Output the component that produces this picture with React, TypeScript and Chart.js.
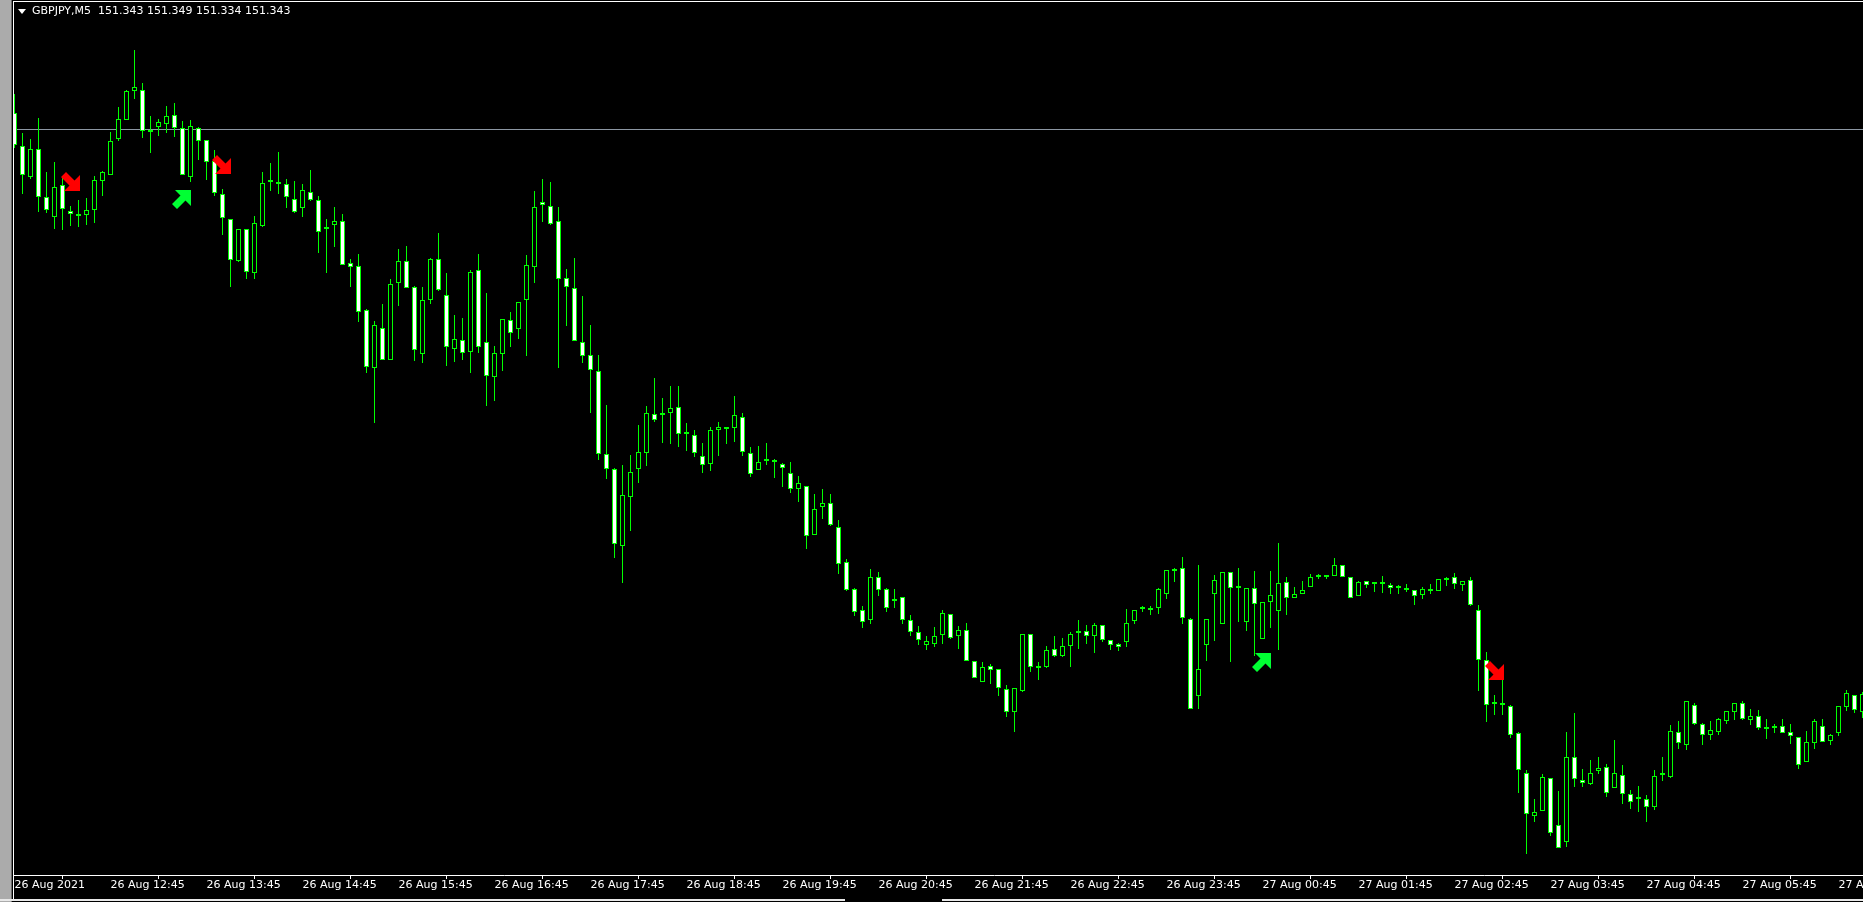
import React, { useEffect, useRef } from 'react';
import { Chart, registerables } from 'chart.js';

Chart.register(...registerables);

// GBPJPY M5 candles, one per 5 minutes, first bar 26 Aug 2021 11:45
const opens = [
  151.887, 151.854, 151.823, 151.851, 151.803, 151.783, 151.815, 151.789, 151.784, 151.785,
  151.790, 151.819, 151.825, 151.861, 151.880, 151.909, 151.910, 151.868, 151.873, 151.876,
  151.885, 151.872, 151.823, 151.872, 151.860, 151.839, 151.806, 151.781, 151.739, 151.771,
  151.727, 151.774, 151.818, 151.817, 151.816, 151.801, 151.792, 151.808, 151.800, 151.773,
  151.775, 151.779, 151.737, 151.734, 151.690, 151.632, 151.672, 151.640, 151.717, 151.739,
  151.713, 151.646, 151.700, 151.741, 151.705, 151.651, 151.660, 151.648, 151.730, 151.658,
  151.623, 151.646, 151.680, 151.671, 151.700, 151.733, 151.798, 151.794, 151.779, 151.722,
  151.712, 151.658, 151.645, 151.629, 151.546, 151.531, 151.454, 151.503, 151.531, 151.547,
  151.586, 151.585, 151.587, 151.593, 151.566, 151.565, 151.544, 151.536, 151.570, 151.571,
  151.572, 151.583, 151.547, 151.530, 151.539, 151.540, 151.536, 151.527, 151.511, 151.514,
  151.465, 151.493, 151.497, 151.473, 151.438, 151.411, 151.390, 151.380, 151.423, 151.411,
  151.400, 151.403, 151.380, 151.368, 151.355, 151.356, 151.365, 151.386, 151.364, 151.370,
  151.339, 151.318, 151.334, 151.331, 151.311, 151.288, 151.309, 151.366, 151.332, 151.333,
  151.351, 151.344, 151.354, 151.367, 151.369, 151.364, 151.375, 151.360, 151.356, 151.358,
  151.379, 151.391, 151.390, 151.392, 151.406, 151.429, 151.432, 151.381, 151.304, 151.355,
  151.406, 151.376, 151.428, 151.412, 151.378, 151.412, 151.361, 151.398, 151.389, 151.418,
  151.402, 151.406, 151.413, 151.423, 151.423, 151.424, 151.435, 151.423, 151.404, 151.419,
  151.416, 151.418, 151.415, 151.412, 151.412, 151.410, 151.405, 151.409, 151.409, 151.420,
  151.423, 151.415, 151.420, 151.390, 151.340, 151.296, 151.297, 151.294, 151.267, 151.227,
  151.184, 151.189, 151.222, 151.175, 151.158, 151.243, 151.220, 151.216, 151.229, 151.233,
  151.212, 151.225, 151.206, 151.201, 151.201, 151.193, 151.227, 151.223, 151.268, 151.255,
  151.295, 151.276, 151.265, 151.268, 151.279, 151.288, 151.297, 151.280, 151.284, 151.271,
  151.272, 151.274, 151.268, 151.263, 151.238, 151.257, 151.274, 151.259, 151.267, 151.293,
  151.305, 151.288,
];

const highs = [
  151.906, 151.867, 151.861, 151.882, 151.828, 151.838, 151.822, 151.794, 151.800, 151.802,
  151.824, 151.829, 151.868, 151.893, 151.910, 151.950, 151.917, 151.884, 151.881, 151.894,
  151.897, 151.879, 151.880, 151.873, 151.860, 151.850, 151.811, 151.781, 151.771, 151.771,
  151.784, 151.828, 151.837, 151.848, 151.821, 151.819, 151.816, 151.830, 151.804, 151.781,
  151.793, 151.786, 151.741, 151.746, 151.691, 151.679, 151.696, 151.721, 151.751, 151.754,
  151.714, 151.713, 151.742, 151.767, 151.727, 151.685, 151.682, 151.730, 151.746, 151.707,
  151.654, 151.681, 151.688, 151.698, 151.745, 151.809, 151.821, 151.818, 151.793, 151.731,
  151.742, 151.704, 151.675, 151.645, 151.595, 151.532, 151.535, 151.545, 151.575, 151.594,
  151.622, 151.602, 151.614, 151.614, 151.577, 151.570, 151.557, 151.573, 151.578, 151.573,
  151.604, 151.587, 151.553, 151.554, 151.557, 151.541, 151.537, 151.538, 151.524, 151.514,
  151.506, 151.511, 151.506, 151.480, 151.441, 151.412, 151.394, 151.431, 151.428, 151.412,
  151.411, 151.403, 151.385, 151.374, 151.364, 151.373, 151.390, 151.386, 151.374, 151.377,
  151.339, 151.338, 151.336, 151.331, 151.315, 151.312, 151.366, 151.366, 151.338, 151.354,
  151.364, 151.362, 151.368, 151.380, 151.375, 151.377, 151.375, 151.360, 151.357, 151.391,
  151.390, 151.394, 151.394, 151.412, 151.430, 151.432, 151.443, 151.382, 151.435, 151.381,
  151.425, 151.428, 151.428, 151.432, 151.412, 151.429, 151.398, 151.429, 151.457, 151.423,
  151.413, 151.419, 151.426, 151.426, 151.423, 151.442, 151.435, 151.423, 151.419, 151.419,
  151.418, 151.424, 151.417, 151.415, 151.416, 151.410, 151.413, 151.416, 151.421, 151.423,
  151.427, 151.419, 151.423, 151.395, 151.348, 151.305, 151.326, 151.295, 151.268, 151.230,
  151.201, 151.226, 151.222, 151.209, 151.268, 151.287, 151.231, 151.240, 151.243, 151.236,
  151.260, 151.235, 151.210, 151.214, 151.205, 151.230, 151.243, 151.275, 151.279, 151.299,
  151.297, 151.277, 151.279, 151.282, 151.289, 151.297, 151.299, 151.291, 151.290, 151.281,
  151.276, 151.281, 151.276, 151.263, 151.269, 151.281, 151.281, 151.266, 151.294, 151.310,
  151.305, 151.308,
];

const lows = [
  151.852, 151.806, 151.821, 151.788, 151.787, 151.771, 151.770, 151.774, 151.773, 151.775,
  151.777, 151.804, 151.825, 151.859, 151.880, 151.901, 151.862, 151.847, 151.864, 151.867,
  151.863, 151.825, 151.818, 151.840, 151.820, 151.804, 151.765, 151.713, 151.738, 151.721,
  151.721, 151.773, 151.809, 151.806, 151.792, 151.787, 151.783, 151.799, 151.747, 151.727,
  151.753, 151.735, 151.713, 151.678, 151.627, 151.577, 151.640, 151.640, 151.694, 151.712,
  151.639, 151.637, 151.696, 151.709, 151.634, 151.638, 151.640, 151.627, 151.647, 151.594,
  151.599, 151.629, 151.653, 151.661, 151.644, 151.717, 151.778, 151.775, 151.632, 151.674,
  151.659, 151.637, 151.587, 151.540, 151.521, 151.442, 151.417, 151.469, 151.517, 151.534,
  151.578, 151.557, 151.556, 151.553, 151.549, 151.543, 151.527, 151.529, 151.544, 151.556,
  151.558, 151.544, 151.523, 151.530, 151.535, 151.522, 151.513, 151.507, 151.498, 151.451,
  151.465, 151.481, 151.474, 151.426, 151.409, 151.384, 151.372, 151.376, 151.404, 151.388,
  151.392, 151.376, 151.364, 151.355, 151.350, 151.353, 151.356, 151.361, 151.351, 151.339,
  151.322, 151.318, 151.316, 151.304, 151.283, 151.268, 151.308, 151.328, 151.320, 151.332,
  151.343, 151.343, 151.333, 151.351, 151.356, 151.347, 151.358, 151.350, 151.349, 151.353,
  151.376, 151.388, 151.385, 151.386, 151.401, 151.418, 151.376, 151.291, 151.291, 151.339,
  151.359, 151.376, 151.338, 151.378, 151.369, 151.344, 151.361, 151.372, 151.350, 151.385,
  151.402, 151.406, 151.413, 151.421, 151.421, 151.424, 151.423, 151.402, 151.404, 151.412,
  151.408, 151.407, 151.406, 151.406, 151.408, 151.395, 151.401, 151.406, 151.409, 151.414,
  151.411, 151.409, 151.394, 151.309, 151.278, 151.285, 151.285, 151.262, 151.207, 151.146,
  151.178, 151.189, 151.164, 151.152, 151.153, 151.213, 151.213, 151.215, 151.226, 151.203,
  151.212, 151.196, 151.191, 151.188, 151.178, 151.190, 151.219, 151.222, 151.251, 151.250,
  151.275, 151.255, 151.260, 151.265, 151.276, 151.280, 151.280, 151.275, 151.270, 151.261,
  151.267, 151.267, 151.256, 151.231, 151.238, 151.251, 151.258, 151.255, 151.264, 151.289,
  151.287, 151.282,
];

const closes = [
  151.855, 151.825, 151.851, 151.803, 151.790, 151.813, 151.791, 151.786, 151.785, 151.790,
  151.820, 151.828, 151.859, 151.881, 151.909, 151.913, 151.869, 151.870, 151.878, 151.884,
  151.872, 151.825, 151.874, 151.859, 151.838, 151.807, 151.782, 151.740, 151.771, 151.728,
  151.777, 151.817, 151.818, 151.816, 151.803, 151.788, 151.810, 151.800, 151.768, 151.771,
  151.779, 151.735, 151.733, 151.688, 151.633, 151.675, 151.640, 151.716, 151.739, 151.712,
  151.650, 151.700, 151.741, 151.710, 151.653, 151.661, 151.647, 151.728, 151.653, 151.624,
  151.647, 151.681, 151.667, 151.698, 151.735, 151.793, 151.795, 151.776, 151.721, 151.713,
  151.659, 151.644, 151.630, 151.546, 151.531, 151.456, 151.505, 151.528, 151.548, 151.587,
  151.580, 151.587, 151.592, 151.566, 151.566, 151.547, 151.535, 151.570, 151.573, 151.571,
  151.585, 151.548, 151.526, 151.538, 151.541, 151.538, 151.532, 151.511, 151.517, 151.464,
  151.491, 151.497, 151.475, 151.436, 151.410, 151.388, 151.378, 151.423, 151.410, 151.392,
  151.399, 151.380, 151.368, 151.360, 151.359, 151.364, 151.387, 151.362, 151.370, 151.339,
  151.322, 151.333, 151.330, 151.312, 151.288, 151.312, 151.366, 151.333, 151.334, 151.350,
  151.344, 151.354, 151.366, 151.367, 151.364, 151.375, 151.360, 151.355, 151.353, 151.377,
  151.390, 151.391, 151.392, 151.411, 151.430, 151.429, 151.382, 151.291, 151.331, 151.381,
  151.420, 151.428, 151.412, 151.412, 151.412, 151.396, 151.398, 151.405, 151.417, 151.402,
  151.406, 151.410, 151.423, 151.423, 151.423, 151.435, 151.423, 151.402, 151.418, 151.415,
  151.416, 151.416, 151.412, 151.412, 151.410, 151.404, 151.411, 151.409, 151.421, 151.422,
  151.416, 151.419, 151.395, 151.340, 151.295, 151.296, 151.295, 151.265, 151.230, 151.186,
  151.188, 151.223, 151.167, 151.152, 151.243, 151.221, 151.217, 151.227, 151.232, 151.207,
  151.227, 151.206, 151.198, 151.201, 151.193, 151.224, 151.225, 151.269, 151.257, 151.299,
  151.276, 151.265, 151.270, 151.281, 151.289, 151.297, 151.281, 151.284, 151.272, 151.271,
  151.272, 151.267, 151.264, 151.235, 151.258, 151.279, 151.258, 151.265, 151.294, 151.307,
  151.290, 151.306,
];

const tickLabels = [
  '26 Aug 2021', '26 Aug 12:45', '26 Aug 13:45', '26 Aug 14:45', '26 Aug 15:45',
  '26 Aug 16:45', '26 Aug 17:45', '26 Aug 18:45', '26 Aug 19:45', '26 Aug 20:45',
  '26 Aug 21:45', '26 Aug 22:45', '26 Aug 23:45', '27 Aug 00:45', '27 Aug 01:45',
  '27 Aug 02:45', '27 Aug 03:45', '27 Aug 04:45', '27 Aug 05:45', '27 Aug 06:45',
];
const barsPerTick = 12;

// signal arrows (bar index, price)
const sellArrowBar = [7, 25.875, 185];
const sellArrowPrice = [151.8185, 151.8355, 151.3295];
const buyArrowBar = [20.875, 155.875];
const buyArrowPrice = [151.8005, 151.3375];

const levelPrice = 151.8705;
const priceMin = 151.125;
const priceMax = 152.0;

const titleText = 'GBPJPY,M5  151.343 151.349 151.334 151.343';

const CANVAS_W = 1960;
const CANVAS_H = 902;
const PX_PER_BAR = 8;

function makeArrow(color: string, up: boolean): HTMLCanvasElement {
  const c = document.createElement('canvas');
  c.width = 19;
  c.height = 19;
  const g = c.getContext('2d')!;
  const down = [
    [5, 0], [13.5, 8.5], [19, 3], [19, 19], [3, 19], [8.5, 13.5], [0, 5],
  ];
  const pts = up ? down.map(([x, y]) => [x, 19 - y]) : down;
  g.fillStyle = color;
  g.beginPath();
  pts.forEach(([x, y], i) => (i ? g.lineTo(x, y) : g.moveTo(x, y)));
  g.closePath();
  g.fill();
  return c;
}

export default function App() {
  const ref = useRef<HTMLCanvasElement | null>(null);

  useEffect(() => {
    document.body.style.margin = '0';
    document.body.style.background = '#000';
    const canvas = ref.current!;
    const xMin = -1 / 16;
    const xMax = xMin + CANVAS_W / PX_PER_BAR;

    const bodies = opens.map((o, i) => ({ x: i, y: [o, closes[i]] }));
    const wicks = lows.map((l, i) => ({ x: i, y: [l, highs[i]] }));
    const bodyColors = opens.map((o, i) => (closes[i] < o ? '#ffffff' : '#000000'));

    const chart = new Chart(canvas, {
      type: 'bar',
      data: {
        datasets: [
          {
            type: 'scatter',
            data: sellArrowBar.map((x, i) => ({ x, y: sellArrowPrice[i] })),
            pointStyle: makeArrow('#ff0000', false),
            pointRadius: 9,
            order: -2,
          } as any,
          {
            type: 'scatter',
            data: buyArrowBar.map((x, i) => ({ x, y: buyArrowPrice[i] })),
            pointStyle: makeArrow('#00ff33', true),
            pointRadius: 9,
            order: -1,
          } as any,
          {
            type: 'bar',
            data: bodies,
            backgroundColor: bodyColors,
            borderColor: '#00ff00',
            borderWidth: 1,
            borderSkipped: false,
            barThickness: 5,
            grouped: false,
            minBarLength: 2,
            inflateAmount: 0,
            order: 1,
          } as any,
          {
            type: 'bar',
            data: wicks,
            backgroundColor: '#00ff00',
            borderWidth: 0,
            barThickness: 1,
            grouped: false,
            inflateAmount: 0,
            order: 2,
          } as any,
          {
            type: 'line',
            data: [
              { x: xMin, y: levelPrice },
              { x: xMax, y: levelPrice },
            ],
            borderColor: '#8c97a3',
            borderWidth: 1,
            pointRadius: 0,
            order: 3,
          } as any,
        ],
      },
      options: {
        responsive: false,
        animation: false,
        events: [],
        layout: { padding: 0, autoPadding: false },
        plugins: {
          legend: { display: false },
          tooltip: { enabled: false },
          title: { display: false },
        },
        scales: {
          x: {
            type: 'linear',
            min: xMin,
            max: xMax,
            offset: false,
            afterBuildTicks: (s: any) => {
              s.ticks = tickLabels.map((_, k) => ({ value: k * barsPerTick }));
            },
            afterFit: (s: any) => {
              s.height = 27;
            },
            ticks: {
              autoSkip: false,
              maxRotation: 0,
              minRotation: 0,
              align: 'start',
              padding: 0,
              color: '#ffffff',
              font: { family: 'DejaVu Sans', size: 11 },
              callback: (_v: any, i: number) => tickLabels[i],
            },
            grid: {
              drawOnChartArea: false,
              drawTicks: true,
              tickLength: 4,
              color: '#ffffff',
            },
            border: { display: true, color: '#ffffff', width: 1 },
          },
          y: { display: false, min: priceMin, max: priceMax },
        },
      } as any,
    });
    return () => chart.destroy();
  }, []);

  return (
    <div
      style={{
        position: 'relative',
        width: 1863,
        height: 902,
        background: '#000',
        overflow: 'hidden',
      }}
    >
      <canvas
        ref={ref}
        width={CANVAS_W}
        height={CANVAS_H}
        style={{ position: 'absolute', left: 14, top: 0, width: CANVAS_W, height: CANVAS_H, display: 'block' }}
      />
      <div style={{ position: 'absolute', left: 0, top: 0, width: 11, height: 902, background: '#ababab' }} />
      <div style={{ position: 'absolute', left: 11, top: 0, width: 1, height: 902, background: '#6a6a6a' }} />
      <div style={{ position: 'absolute', left: 13, top: 1, width: 1, height: 898, background: '#ffffff' }} />
      <div style={{ position: 'absolute', left: 13, top: 1, width: 1850, height: 1, background: '#ffffff' }} />
      <div style={{ position: 'absolute', left: 0, top: 899, width: 845, height: 2, background: '#e8e8e8' }} />
      <div style={{ position: 'absolute', left: 942, top: 899, width: 921, height: 2, background: '#e8e8e8' }} />
      <div
        style={{
          position: 'absolute',
          left: 18,
          top: 9,
          width: 0,
          height: 0,
          borderLeft: '4px solid transparent',
          borderRight: '4px solid transparent',
          borderTop: '5px solid #ffffff',
        }}
      />
      <div
        style={{
          position: 'absolute',
          left: 32,
          top: 4,
          fontFamily: '"DejaVu Sans", sans-serif',
          fontSize: 11,
          lineHeight: '13px',
          color: '#ffffff',
          whiteSpace: 'pre',
        }}
      >
        {titleText}
      </div>
    </div>
  );
}
